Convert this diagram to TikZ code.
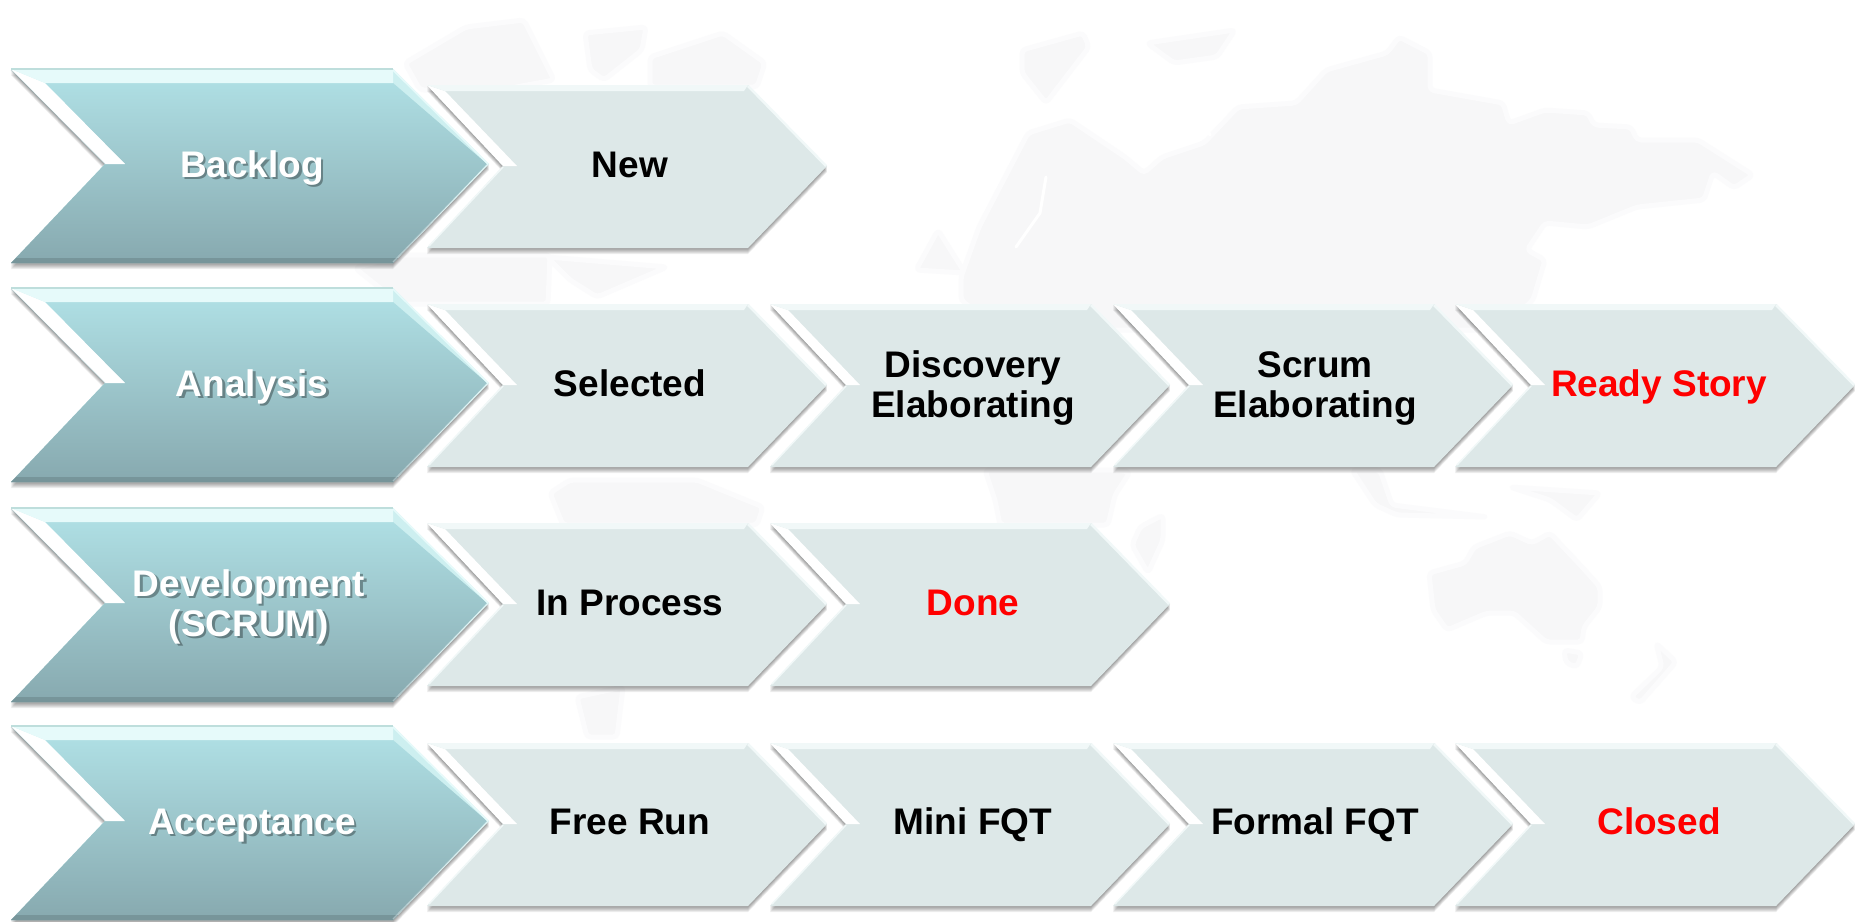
\documentclass[tikz,border=0pt]{standalone}
\usepackage{fontspec}
\setmainfont{Liberation Sans}
\definecolor{mapgray}{HTML}{F7F7F8}
\definecolor{mapsoft}{HTML}{FBFBFC}
\definecolor{darktop}{HTML}{AEDEE3}
\definecolor{darkbot}{HTML}{87A9AF}
\definecolor{darkband}{HTML}{E6FAFA}
\definecolor{darkedge}{HTML}{BEDEDC}
\definecolor{darkslope}{HTML}{CDEFF0}
\definecolor{lightfill}{HTML}{DDE8E8}
\definecolor{lightband}{HTML}{F1F8F8}
\definecolor{txtred}{HTML}{FF0000}
\tikzset{
  x=1pt,y=-1pt,
  land/.style={fill=mapgray,draw=mapsoft,line width=5pt,line join=round,rounded corners=4pt},
  cut/.style={draw=white,line width=3pt,line cap=round,line join=round},
  softshadow/.style={fill=black,fill opacity=.07,draw=none},
  lbl/.style={font=\bfseries\fontsize{37}{40}\selectfont,align=center,anchor=base,inner sep=0pt},
  darklbl/.style={lbl,text=white},
  shadowlbl/.style={lbl,text=black,text opacity=.33},
  blacklbl/.style={lbl,text=black},
  redlbl/.style={lbl,text=txtred},
}
% dark chevron: top-left at (#1,#2)
\newcommand\darkchev[2]{%
\begin{scope}[shift={(#1,#2)}]
  \foreach \d in {1,2,3,4,5,6}{\path[softshadow,yshift=-\d pt] (0,0)--(382,0)--(478,95)--(382,194)--(0,194)--(94,95)--cycle;}
  \fill[darkslope] (0,0)--(382,0)--(478,95)--(382,194)--(0,194)--(94,95)--cycle;
  \shade[top color=darktop,bottom color=darkbot,draw=none] (34,14)--(382,14)--(476,95)--(382,194)--(0,194)--(94,95)--(114,95)--cycle;
  \fill[darkbot!88!black] (5,189)--(387,189)--(382,194)--(0,194)--cycle;
  \fill[white] (0,0)--(34,14)--(114,95)--(94,95)--cycle;
  \fill[darkband] (0,0)--(382,0)--(382,14)--(34,14)--cycle;
  \draw[darkedge,line width=1.2pt] (0,0)--(382,0);
  \draw[darkband,line width=1.6pt] (382,1)--(477,95);
  \draw[white,opacity=.35,line width=1.2pt] (477,95)--(382,193);
  \draw[darkbot,opacity=.3,line width=1pt] (0,1)--(94,95);
\end{scope}}
% light chevron: top-left at (#1,#2)
\newcommand\lightchev[2]{%
\begin{scope}[shift={(#1,#2)}]
  \foreach \d in {1,2,3,4,5,6}{\path[softshadow,yshift=-\d pt] (0,0)--(321,0)--(400,81)--(321,163)--(0,163)--(76,81)--cycle;}
  \fill[lightfill] (0,0)--(321,0)--(400,81)--(321,163)--(0,163)--(76,81)--cycle;
  \fill[white] (0,0)--(18,6)--(90,81)--(76,81)--cycle;
  \fill[lightband] (0,0)--(321,0)--(317,6)--(18,6)--cycle;
  \draw[lightband,line width=2.5pt] (321,1)--(399,81);
  \draw[lightband,line width=1.5pt] (76,82)--(2,161);
\end{scope}}
\begin{document}
\begin{tikzpicture}
\useasboundingbox (0,0) rectangle (1855,921);
\fill[white] (0,0) rectangle (1855,921);
% --- faint world map ---
\path[land] (961,300)--(961,277)--(979,227)--(1028,133)--(1070,120)--(1125,157)--(1144,173)--(1162,157)--(1204,143)--(1238,107)--(1296,103)--(1326,70)--(1387,53)--(1399,37)--(1430,53)--(1430,90)--(1503,103)--(1509,123)--(1545,110)--(1588,113)--(1594,125)--(1631,127)--(1637,140)--(1698,140)--(1753,175)--(1734,188)--(1713,173)--(1704,200)--(1637,207)--(1588,227)--(1545,223)--(1527,250)--(1545,260)--(1533,300)--(1500,330)--(1000,330)--cycle;
\draw[cut] (1046,177)--(1040,213)--(1016,247);
\draw[cut] (1210,90)--(1203,120)--(1210,135);
\path[land] (1022,50)--(1083,33)--(1089,47)--(1046,103)--(1022,73)--cycle;
\path[land] (1147,43)--(1235,30)--(1217,57)--(1174,63)--cycle;
\path[land] (938,230)--(965,273)--(916,270)--cycle;
\path[land] (405,63)--(466,27)--(524,20)--(554,80)--(500,90)--(420,90)--cycle;
\path[land] (585,33)--(646,27)--(642,50)--(604,80)--(590,70)--cycle;
\path[land] (650,57)--(723,33)--(765,63)--(757,87)--(650,87)--cycle;
\path[land] (355,268)--(400,255)--(550,255)--(548,304)--(400,304)--cycle;
\path[land] (547,257)--(667,267)--(597,297)--(570,280)--cycle;
\path[land] (550,493)--(570,480)--(697,480)--(763,507)--(757,525)--(563,525)--cycle;
\path[land] (577,697)--(623,687)--(617,737)--(587,737)--cycle;
\path[land] (985,470)--(1115,470)--(1130,472)--(1115,495)--(1108,525)--(1000,525)--(995,500)--cycle;
\path[land] (1140,527)--(1163,515)--(1163,540)--(1148,573)--(1132,545)--cycle;
\path[land] (1352,470)--(1380,470)--(1392,505)--(1487,517)--(1397,515)--(1375,505)--cycle;
\path[land] (1510,487)--(1600,493)--(1577,520)--(1550,500)--cycle;
\path[land] (1429,573)--(1465,563)--(1474,547)--(1510,533)--(1532,543)--(1550,533)--(1582,567)--(1600,587)--(1600,607)--(1584,627)--(1582,642)--(1546,642)--(1514,613)--(1487,613)--(1447,630)--(1433,610)--cycle;
\path[land] (1564,650)--(1582,653)--(1577,667)--(1566,663)--cycle;
\path[land] (1656,643)--(1676,662)--(1640,703)--(1631,697)--(1662,667)--cycle;
% --- dark chevrons ---
\darkchev{11}{69}
\darkchev{11}{288}
\darkchev{11}{508}
\darkchev{11}{726}
% --- light chevrons ---
\lightchev{427}{85}
\lightchev{427}{304}\lightchev{770}{304}\lightchev{1113}{304}\lightchev{1455}{304}
\lightchev{427}{523}\lightchev{770}{523}
\lightchev{427}{743}\lightchev{770}{743}\lightchev{1113}{743}\lightchev{1455}{743}
% --- labels of the dark chevrons ---
\node[shadowlbl] (s1) at (254.5,179.5) {Backlog};
\node[darklbl] (d1) at (252,177) {Backlog};
\node[shadowlbl] (s2) at (254.5,398.5) {Analysis};
\node[darklbl] (d2) at (252,396) {Analysis};
\node[shadowlbl] (s3) at (251.5,638.5) {Development\\(SCRUM)};
\node[darklbl] (d3) at (249,636) {Development\\(SCRUM)};
\node[shadowlbl] (s4) at (254.5,836.5) {Acceptance};
\node[darklbl] (d4) at (252,834) {Acceptance};
% --- labels of the light chevrons ---
\node[blacklbl] (new) at (630,177) {New};
\node[blacklbl] (sel) at (630,396) {Selected};
\node[blacklbl] (dis) at (973,417) {Discovery\\Elaborating};
\node[blacklbl] (scr) at (1315,417) {Scrum\\Elaborating};
\node[redlbl] (rdy) at (1659,396) {Ready Story};
\node[blacklbl] (inp) at (630,615) {In Process};
\node[redlbl] (don) at (973,615) {Done};
\node[blacklbl] (fre) at (630,834) {Free Run};
\node[blacklbl] (min) at (973,834) {Mini FQT};
\node[blacklbl] (frm) at (1315,834) {Formal FQT};
\node[redlbl] (clo) at (1659,834) {Closed};
\end{tikzpicture}
\end{document}
